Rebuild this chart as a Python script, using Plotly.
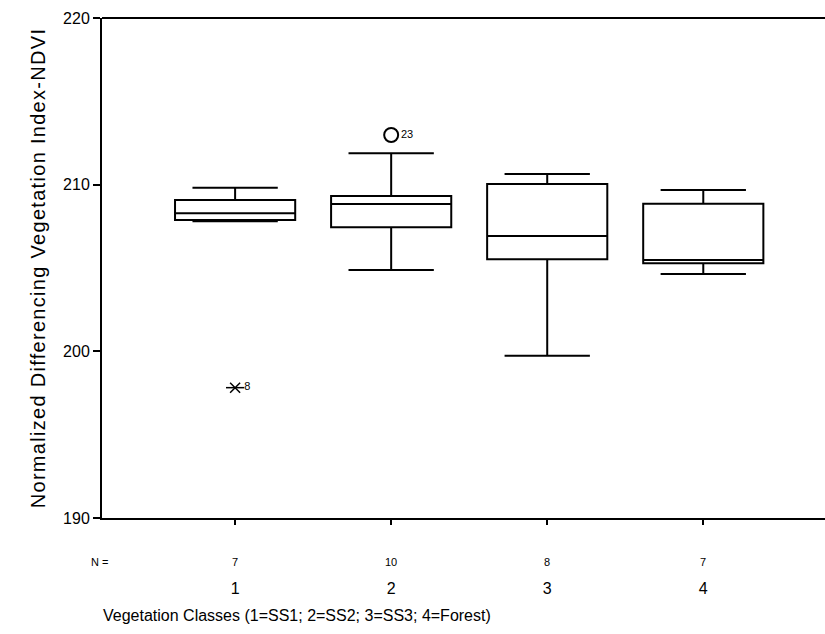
import plotly.graph_objects as go

# Data
classes = [1, 2, 3, 4]
n_counts = ["7", "10", "8", "7"]
lower_whisker = [207.8, 204.88, 199.74, 204.64]
q1 = [207.88, 207.44, 205.52, 205.28]
median = [208.28, 208.84, 206.92, 205.48]
q3 = [209.08, 209.32, 210.04, 208.86]
upper_whisker = [209.82, 211.88, 210.64, 209.68]

extreme_x = [1]
extreme_y = [197.82]
extreme_label = ["8"]
outlier_x = [2]
outlier_y = [212.98]
outlier_label = ["23"]

y_ticks = [190, 200, 210, 220]

FONT = "Liberation Sans, Arial, sans-serif"

fig = go.Figure()
fig.add_trace(go.Box(
    x=classes, q1=q1, median=median, q3=q3,
    lowerfence=lower_whisker, upperfence=upper_whisker,
    fillcolor="white", line=dict(color="black", width=2),
    width=0.77, whiskerwidth=0.71, boxpoints=False, showlegend=False,
))
# extremes (asterisk): X + horizontal bar
fig.add_trace(go.Scatter(x=extreme_x, y=extreme_y, mode="markers",
    marker=dict(symbol="x-thin-open", size=10, color="black",
                line=dict(color="black", width=1.5)),
    showlegend=False))
fig.add_trace(go.Scatter(x=extreme_x, y=extreme_y, mode="markers+text",
    marker=dict(symbol="line-ew-open", size=13, color="black",
                line=dict(color="black", width=1.5)),
    text=extreme_label, textposition="middle right",
    textfont=dict(family=FONT, size=11, color="black"), showlegend=False))
# outliers (circle)
fig.add_trace(go.Scatter(x=outlier_x, y=outlier_y, mode="markers+text",
    marker=dict(symbol="circle-open", size=14, color="black",
                line=dict(color="black", width=2)),
    text=outlier_label, textposition="middle right",
    textfont=dict(family=FONT, size=11, color="black"), showlegend=False))

annotations = []
for c, n in zip(classes, n_counts):
    annotations.append(dict(x=c, y=-0.088, xref="x", yref="paper", text=n,
        showarrow=False, xanchor="center", yanchor="middle",
        font=dict(family=FONT, size=11, color="black")))
annotations.append(dict(x=-0.003, y=-0.088, xref="paper", yref="paper", text="N =",
    showarrow=False, xanchor="center", yanchor="middle",
    font=dict(family=FONT, size=11, color="black")))
annotations.append(dict(x=-0.001, y=-0.194, xref="paper", yref="paper",
    text="Vegetation Classes (1=SS1; 2=SS2; 3=SS3; 4=Forest)",
    showarrow=False, xanchor="left", yanchor="middle",
    font=dict(family=FONT, size=16, color="black")))

fig.update_layout(
    width=825, height=634,
    margin=dict(l=102, r=0, t=18, b=116),
    paper_bgcolor="white", plot_bgcolor="white",
    font=dict(family=FONT, color="black"),
    annotations=annotations,
    xaxis=dict(range=[0.147, 4.78], tickvals=classes, ticktext=[str(c) for c in classes],
               ticks="outside", ticklen=5, tickwidth=1.5, tickcolor="black",
               showline=True, linecolor="black", linewidth=2, showgrid=False, zeroline=False,
               tickfont=dict(family=FONT, size=16, color="black"), ticklabelstandoff=50,
               mirror=False),
    yaxis=dict(range=[190, 220], tickvals=y_ticks, ticks="outside", ticklen=7,
               tickwidth=1.5, tickcolor="black", showline=True, linecolor="black",
               linewidth=2, showgrid=False, zeroline=False,
               tickfont=dict(family=FONT, size=16, color="black"),
               title=dict(text='<span style="letter-spacing:1.3px">Normalized Differencing Vegetation Index-NDVI</span>',
                          font=dict(family=FONT, size=20, color="black"), standoff=12)),
)
# top border line
fig.add_shape(type="line", xref="paper", yref="paper", x0=0, x1=1, y0=1, y1=1,
              line=dict(color="black", width=2))

fig.write_html("out.html")
